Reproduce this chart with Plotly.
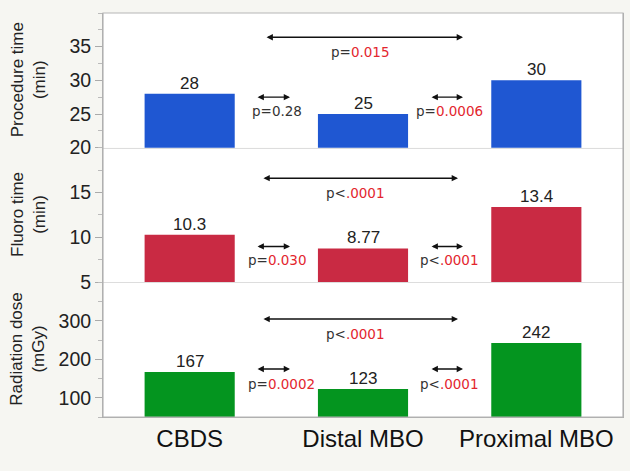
import plotly.graph_objects as go
from plotly.subplots import make_subplots

categories = ["CBDS", "Distal MBO", "Proximal MBO"]
procedure_time = [28, 25, 30]
fluoro_time = [10.3, 8.77, 13.4]
radiation_dose = [167, 123, 242]

y_titles = ["Procedure time<br>(min)", "Fluoro time<br>(min)", "Radiation dose<br>(mGy)"]
y_ranges = [[20, 40], [5, 20], [50, 400]]
y_ticks = [[20, 25, 30, 35], [5, 10, 15], [100, 200, 300]]
y_minor = [2.5, 2.5, 50]
colors = ["#1f57d2", "#c92a43", "#04951f"]

# p-values: (prefix, value, significant)
p_left = [("p=", "0.28", False), ("p=", "0.030", True), ("p=", "0.0002", True)]
p_right = [("p=", "0.0006", True), ("p<", ".0001", True), ("p<", ".0001", True)]
p_long = [("p=", "0.015", True), ("p<", ".0001", True), ("p<", ".0001", True)]

# annotation heights per panel (data units): long arrow, long label, short arrows, short labels
ann_y = [[36.4, 34.2, 27.5, 25.4], [16.6, 14.9, 9.0, 7.5], [304.5, 265.6, 174.7, 135.7]]
long_span = [[0.435, 1.577], [0.417, 1.548], [0.417, 1.548]]
long_label_x = [0.983, 0.954, 0.954]
left_label_x = [0.504, 0.504, 0.527]

series = [procedure_time, fluoro_time, radiation_dose]

fig = make_subplots(rows=3, cols=1, shared_xaxes=False, vertical_spacing=0)

FONT = "Liberation Sans, Arial, sans-serif"
PFONT = "DejaVu Sans, Verdana, sans-serif"
RED = "#e3262e"


def ptext(p):
    prefix, val, sig = p
    if sig:
        return f"<span style='color:#333'>{prefix}</span><span style='color:{RED}'>{val}</span>"
    return f"<span style='color:#333'>{prefix}{val}</span>"


for i in range(3):
    r = i + 1
    fig.add_trace(go.Bar(
        x=[0, 1, 2], y=series[i], width=0.52,
        marker=dict(color=colors[i], line=dict(width=0)),
        showlegend=False,
    ), row=r, col=1)
    xr = "x" if r == 1 else f"x{r}"
    yr = "y" if r == 1 else f"y{r}"
    # value labels just above bars
    for xi, v in enumerate(series[i]):
        fig.add_annotation(x=xi, y=v, xref=xr, yref=yr, text=f"{v:g}", showarrow=False,
                           yanchor="bottom", yshift=-1,
                           font=dict(family=FONT, size=17, color="#222"))
    ya, yl, ys, ysl = ann_y[i]
    # arrows
    arrows = [(long_span[i][0], long_span[i][1], ya), (0.383, 0.579, ys), (1.387, 1.577, ys)]
    for (x0, x1, yy) in arrows:
        fig.add_annotation(x=x1, y=yy, ax=x0, ay=yy, xref=xr, yref=yr, axref=xr, ayref=yr,
                           text="", showarrow=True, arrowhead=2, arrowside="end+start",
                           arrowsize=0.9, arrowwidth=1.4, arrowcolor="#111",
                           startarrowhead=2, startarrowsize=0.9)
    # labels
    for (xx, yy, p) in [(long_label_x[i], yl, p_long[i]), (left_label_x[i], ysl, p_left[i]),
                        (1.497, ysl, p_right[i])]:
        fig.add_annotation(x=xx, y=yy, xref=xr, yref=yr, text=ptext(p), showarrow=False,
                           font=dict(family=PFONT, size=13.5, color="#333"))
    # y title
    fig.add_annotation(x=-(103 - 28) / 520, y=0.5, xref="paper", yref=f"{yr} domain",
                       xanchor="center", yanchor="middle",
                       text=y_titles[i], textangle=-90, showarrow=False,
                       font=dict(family=FONT, size=17, color="#222"), align="center")
    fig.update_yaxes(range=y_ranges[i], tickvals=y_ticks[i], showgrid=False, zeroline=False,
                     showline=True, linecolor="#aaaaaa", linewidth=1, mirror=True,
                     ticks="outside", ticklen=7, tickcolor="#aaaaaa", tickwidth=1,
                     minor=dict(ticks="outside", ticklen=4, dtick=y_minor[i], tickcolor="#bbbbbb",
                                tick0=y_ranges[i][0]),
                     tickfont=dict(family=FONT, size=19.5, color="#222"), row=r, col=1)
    fig.update_xaxes(range=[-0.5, 2.5], showgrid=False, zeroline=False, showline=True,
                     linecolor="#dddddd" if r < 3 else "#aaaaaa", linewidth=1,
                     tickvals=[0, 1, 2], ticktext=categories, ticks="",
                     showticklabels=(r == 3),
                     tickfont=dict(family=FONT, size=24, color="#111"), row=r, col=1)

fig.add_shape(type="rect", xref="paper", yref="paper", x0=0, x1=1, y0=0, y1=1,
              line=dict(color="#b5b5b5", width=1.2), fillcolor="rgba(0,0,0,0)", layer="above")

fig.update_layout(
    width=630, height=471,
    margin=dict(l=103, r=7, t=13, b=54),
    paper_bgcolor="#f6f6f2", plot_bgcolor="white",
    bargap=0.48,
    font=dict(family=FONT),
)

fig.write_html("out.html", config={"displayModeBar": False},
               post_script="document.body.style.margin='0';document.body.style.background='#f6f6f2';")
